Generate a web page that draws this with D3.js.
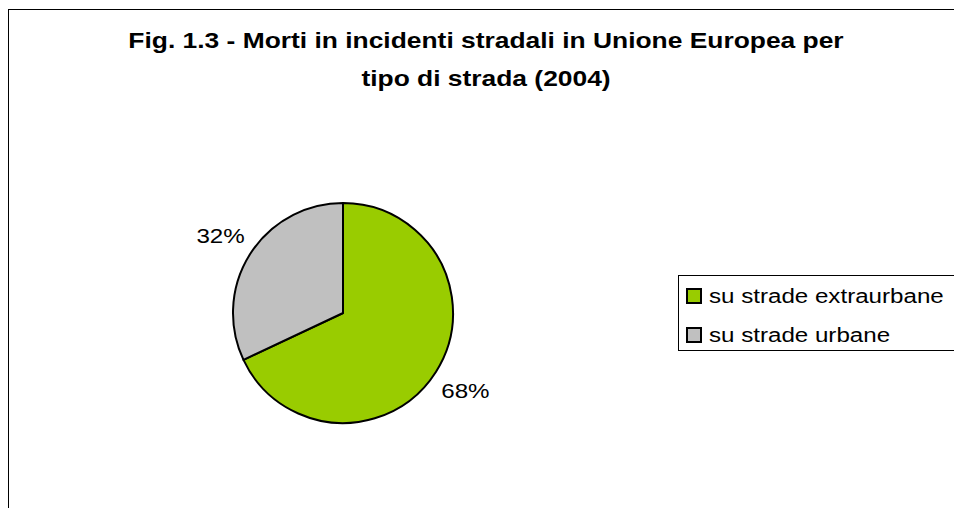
<!DOCTYPE html>
<html>
<head>
<meta charset="utf-8">
<script src="https://cdn.jsdelivr.net/npm/d3@7"></script>
<style>
  body { margin: 0; background: #fff; }
  text { font-family: "Liberation Sans", Arial, sans-serif; }
</style>
</head>
<body>
<script>
const categories = ["su strade extraurbane", "su strade urbane"];
const values = [68, 32];
const labels = ["68%", "32%"];
const colors = ["#99CC00", "#C0C0C0"];
const titleLines = ["Fig. 1.3 - Morti in incidenti stradali in Unione Europea per", "tipo di strada (2004)"];

const w = 954;
const h = 508;
const cx = 343, cy = 313, r = 110;
const stretch = 1.15; // text in the original is horizontally wide

const svg = d3.select("body")
              .append("svg")
              .attr("width", w)
              .attr("height", h);

// chart frame (runs off right and bottom)
svg.append("rect")
   .attr("x", 8.5).attr("y", 9.5)
   .attr("width", 1000).attr("height", 600)
   .attr("fill", "none").attr("stroke", "#000").attr("stroke-width", 1);

svg.selectAll("text.title")
   .data(titleLines)
   .enter()
   .append("text")
   .attr("class", "title")
   .attr("transform", (d, i) => `translate(486,${48 + i * 38}) scale(1.2,1)`)
   .attr("text-anchor", "middle")
   .attr("font-weight", "bold")
   .attr("font-size", 22)
   .text(d => d);

const pie = d3.pie().sort(null).value(d => d);
const arcs = pie(values);
const arc = d3.arc().innerRadius(0).outerRadius(r);
const labelArc = d3.arc().innerRadius(145).outerRadius(145);

const g = svg.append("g").attr("transform", `translate(${cx},${cy})`);
g.selectAll("path")
  .data(arcs)
  .enter()
  .append("path")
  .attr("d", arc)
  .attr("fill", (d, i) => colors[i])
  .attr("stroke", "#000")
  .attr("stroke-width", 2)
  .attr("stroke-linejoin", "round");

g.selectAll("text.lbl")
  .data(arcs)
  .enter()
  .append("text")
  .attr("class", "lbl")
  .attr("transform", d => `translate(${labelArc.centroid(d)}) scale(${stretch},1)`)
  .attr("text-anchor", "middle")
  .attr("dy", "0.35em")
  .attr("font-size", 21)
  .text((d, i) => labels[i]);

// legend
const lg = svg.append("g");
lg.append("rect")
  .attr("x", 678.5).attr("y", 275.5)
  .attr("width", 300).attr("height", 75)
  .attr("fill", "#fff").attr("stroke", "#000").attr("stroke-width", 1);

const item = lg.selectAll("g.item")
  .data(categories)
  .enter()
  .append("g")
  .attr("class", "item")
  .attr("transform", (d, i) => `translate(687,${289 + i * 39})`);
item.append("rect")
  .attr("x", 0).attr("y", 0)
  .attr("width", 14).attr("height", 14)
  .attr("fill", (d, i) => colors[i])
  .attr("stroke", "#000").attr("stroke-width", 2);
item.append("text")
  .attr("transform", `translate(22,14) scale(${stretch},1)`)
  .attr("font-size", 21)
  .text(d => d);
</script>
</body>
</html>
